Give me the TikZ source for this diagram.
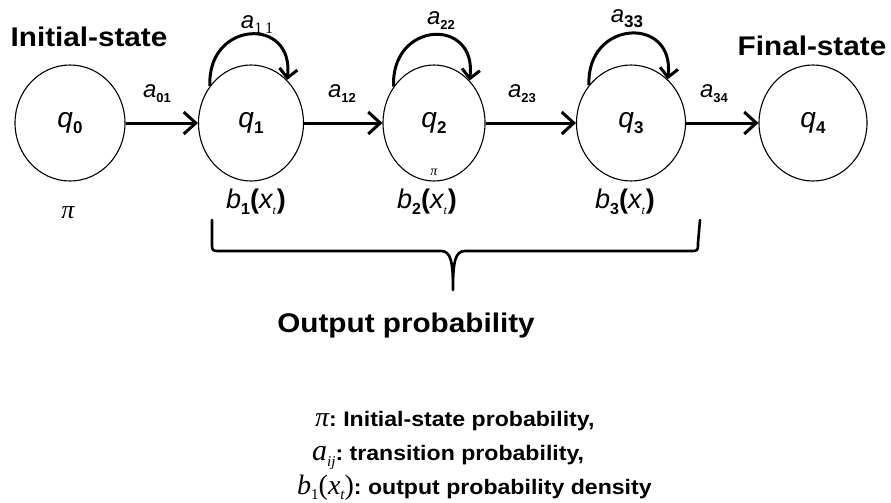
\documentclass[tikz,border=0pt]{standalone}
\usepackage{fontspec}
\setmainfont{Liberation Sans}
\newfontfamily\serifface{Liberation Serif}
\newfontfamily\widesans{Liberation Sans}[FakeStretch=1.1]
\usetikzlibrary{shapes.geometric,arrows.meta}
\newcommand{\fs}[1]{\fontsize{#1}{#1}\selectfont}
\newcommand{\qlab}[1]{{\fs{28}\itshape q}\raisebox{-6pt}{\fs{17}\bfseries #1}}
\newcommand{\alab}[1]{{\fs{24}\itshape a}\raisebox{-5pt}{\fs{13}\bfseries #1}}
\newcommand{\blab}[1]{{\fs{27}\itshape b}\raisebox{-6pt}{\fs{16}\bfseries #1}{\fs{27}\bfseries(}{\fs{27}\itshape x}\raisebox{-6pt}{\fs{12}\serifface\itshape t}\kern1pt{\fs{27}\bfseries)}}
\tikzset{
  state/.style={ellipse,draw,line width=1.1pt,inner sep=0pt,minimum height=116pt},
  arr/.style={line width=3pt,-{Straight Barb[length=12pt,width=22pt]}},
  looparr/.style={line width=3pt,-{Straight Barb[length=9pt,width=18pt]}},
  brace/.style={line width=2.6pt,line cap=round,line join=round},
  heading/.style={font=\widesans\fs{27}\bfseries,inner sep=0pt},
  legend/.style={anchor=base west,inner sep=0pt,font=\widesans\fs{21}\bfseries}
}
\begin{document}
\begin{tikzpicture}[x=1pt,y=-1pt]
\path[use as bounding box] (0,0) rectangle (891,503);
% states
\node[state,minimum width=110pt] (q0) at (70,123) {\qlab{0}};
\node[state,minimum width=105pt] (q1) at (251,123) {\qlab{1}};
\node[state,minimum width=102pt] (q2) at (434,123) {\qlab{2}};
\node[state,minimum width=109pt] (q3) at (631,123) {\qlab{3}};
\node[state,minimum width=108pt] (q4) at (813,123) {\qlab{4}};
% transitions
\draw[arr] (q0) -- (q1);
\draw[arr] (q1) -- (q2);
\draw[arr] (q2) -- (q3);
\draw[arr] (q3) -- (q4);
\node (a01) at (157,94) {\alab{01}};
\node (a12) at (342,94) {\alab{12}};
\node (a23) at (522,94) {\alab{23}};
\node (a34) at (714,94) {\alab{34}};
% self loops
\draw[looparr] (q1.138) .. controls +(-3,-66) and +(8,-64) .. (q1.50);
\draw[looparr] (q2.138) .. controls +(-3,-66) and +(8,-64) .. (q2.50);
\draw[looparr] (q3.138) .. controls +(-3,-66) and +(8,-64) .. (q3.50);
\node (a11) at (257,25) {{\fs{24}\itshape a}\raisebox{-5pt}{\fs{16}\serifface 1\,1}};
\node (a22) at (441,21) {\alab{22}};
\node (a33) at (627,19) {{\fs{24}\itshape a}\raisebox{-5pt}{\fs{17}\bfseries 33}};
% headings
\node[heading] (init) at (89,37) {Initial-state};
\node[heading] (final) at (812,46) {Final-state};
% pi labels
\node (pi0) at (68,213) {\serifface\itshape\fs{26}π};
\node[inner sep=0pt] (pi2) at (434,172) {\serifface\itshape\fs{14}π};
% output labels
\node (b1) at (256,202) {\blab{1}};
\node (b2) at (427,202) {\blab{2}};
\node (b3) at (625,202) {\blab{3}};
% brace
\draw[brace] (212,220) -- (212,243) .. controls (212,251) .. (220,251) -- (441,251)
  .. controls (451,251) and (453,262) .. (453,290)
  .. controls (453,262) and (455,251) .. (465,251) -- (690,251)
  .. controls (698,251) .. (698,243) -- (700,220);
\node[heading] (outp) at (406,326) {Output probability};
% legend
\node[legend] (l1) at (315,426) {{\serifface\mdseries\itshape\fs{28}π}:~Initial-state probability,};
\node[legend] (l2) at (312,460) {{\serifface\mdseries\itshape\fs{30}a}\raisebox{-6pt}{\serifface\mdseries\itshape\fs{15}ij}:~transition probability,};
\node[legend] (l3) at (297,494) {{\serifface\mdseries\itshape\fs{28}b}\raisebox{-5pt}{\serifface\mdseries\fs{15}1}{\serifface\mdseries\fs{28}(}{\serifface\mdseries\itshape\fs{28}x}\raisebox{-5pt}{\serifface\mdseries\itshape\fs{15}t}{\serifface\mdseries\fs{28})}:~output probability density};
\end{tikzpicture}
\end{document}
